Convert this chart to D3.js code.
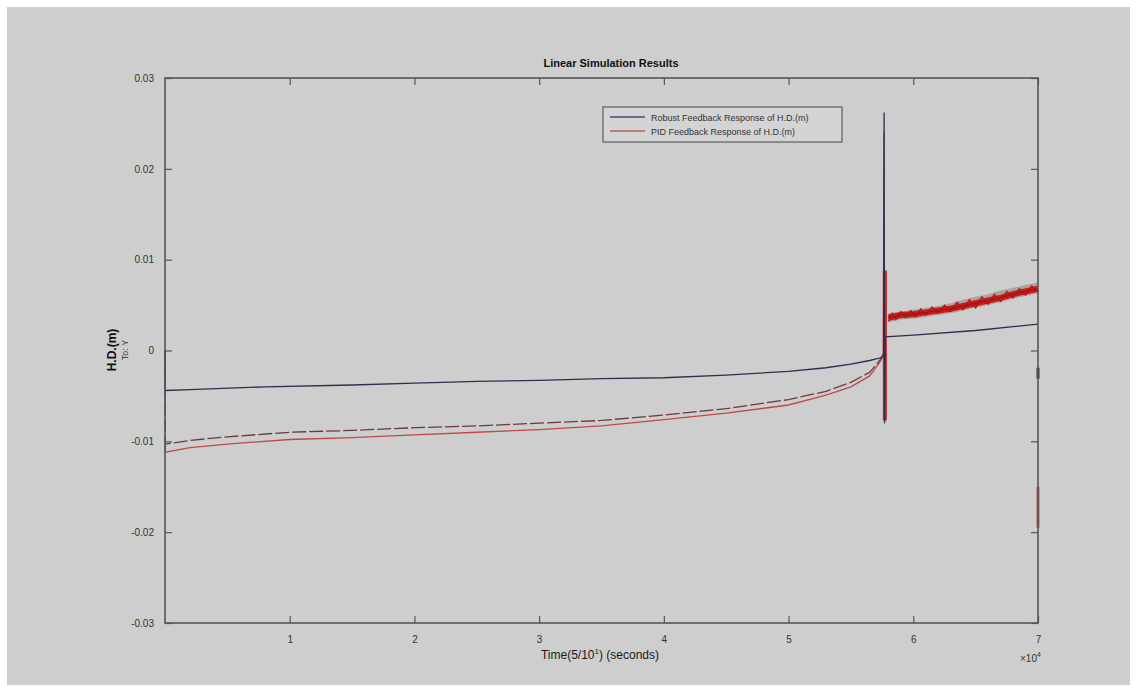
<!DOCTYPE html>
<html>
<head>
<meta charset="utf-8">
<script src="https://cdn.jsdelivr.net/npm/d3@7/dist/d3.min.js"></script>
<style>
html,body{margin:0;padding:0;background:#fff;}
svg{display:block;font-family:"Liberation Sans",Arial,sans-serif;}
</style>
</head>
<body>
<svg id="chart" width="1137" height="692"></svg>
<script>
// ---- data (time in units of 1e4 s, response in m) ----
const xTicks = [1, 2, 3, 4, 5, 6, 7];
const yTicks = [0.03, 0.02, 0.01, 0, -0.01, -0.02, -0.03];
const yTickLabels = ["0.03", "0.02", "0.01", "0", "-0.01", "-0.02", "-0.03"];
const legendLabels = ["Robust Feedback Response of H.D.(m)", "PID Feedback Response of H.D.(m)"];

const robust = [
  [0, 0], [0.002, -0.0044], [0.2, -0.0043], [0.8, -0.0040], [1.5, -0.0038],
  [2, -0.0036], [2.5, -0.0034], [3, -0.0033], [3.5, -0.0031], [4, -0.0030],
  [4.5, -0.0027], [5, -0.0023], [5.3, -0.0019], [5.5, -0.0015], [5.65, -0.0011],
  [5.74, -0.0008], [5.762, -0.0005], [5.766, 0.0262], [5.770, -0.0080],
  [5.775, 0.0015], [6, 0.0017], [6.5, 0.0022], [7, 0.0029]
];
const robustEnd = [[7, -0.0019], [7, -0.0031]];

const pidUpper = [
  [0, 0], [0.003, -0.0103], [0.2, -0.0099], [0.5, -0.0095], [1, -0.0090],
  [1.5, -0.0088], [2, -0.0085], [2.5, -0.0083], [3, -0.0080], [3.5, -0.0077],
  [4, -0.0071], [4.5, -0.0064], [5, -0.0054], [5.3, -0.0045], [5.5, -0.0035],
  [5.65, -0.0024], [5.73, -0.0011], [5.76, -0.0004]
];
const pidLower = [
  [0, -0.0104], [0.003, -0.0112], [0.2, -0.0107], [0.5, -0.0103], [1, -0.0098],
  [1.5, -0.0096], [2, -0.0093], [2.5, -0.0090], [3, -0.0087], [3.5, -0.0083],
  [4, -0.0076], [4.5, -0.0069], [5, -0.0060], [5.3, -0.0049], [5.5, -0.0040],
  [5.65, -0.0028], [5.73, -0.0013], [5.76, -0.0006], [5.765, 0.0240],
  [5.768, -0.0077], [5.771, 0.0088], [5.774, -0.0075], [5.777, 0.0070],
  [5.780, 0.0036]
];
const pidBand = [
  [5.80, 0.0036], [5.9, 0.0039], [6.0, 0.0040], [6.1, 0.0042], [6.2, 0.0044],
  [6.3, 0.0046], [6.4, 0.0049], [6.5, 0.0052], [6.6, 0.0055], [6.7, 0.0058],
  [6.8, 0.0062], [6.9, 0.0065], [7.0, 0.0068]
];
const pidBandTop = [
  [5.80, 0.0041], [5.9, 0.0043], [6.0, 0.0045], [6.1, 0.0047], [6.2, 0.0049],
  [6.3, 0.0052], [6.4, 0.0056], [6.5, 0.0059], [6.6, 0.0062], [6.7, 0.0066],
  [6.8, 0.0069], [6.9, 0.0072], [7.0, 0.0075]
];
const pidNoise = [
  [5.80, 0.0032], [5.83, 0.0041], [5.86, 0.0034], [5.90, 0.0043], [5.94, 0.0036],
  [5.98, 0.0044], [6.02, 0.0037], [6.06, 0.0046], [6.10, 0.0039], [6.15, 0.0048],
  [6.20, 0.0041], [6.25, 0.0050], [6.30, 0.0043], [6.35, 0.0053], [6.40, 0.0045],
  [6.45, 0.0056], [6.50, 0.0047], [6.55, 0.0059], [6.60, 0.0051], [6.65, 0.0062],
  [6.70, 0.0054], [6.75, 0.0065], [6.80, 0.0058], [6.85, 0.0068], [6.90, 0.0061],
  [6.95, 0.0071], [7.00, 0.0064]
];
const pidEnd = [[7, -0.0150], [7, -0.0195]];

// ---- layout ----
const svg = d3.select("#chart");
const W = 1137, H = 692;
const m = {left: 165, top: 78, right: 1038, bottom: 623};

svg.append("rect").attr("x", 7).attr("y", 7).attr("width", W - 14).attr("height", H - 14)
  .attr("fill", "#cecece");

const x = d3.scaleLinear().domain([0, 7]).range([m.left, m.right]);
const y = d3.scaleLinear().domain([-0.03, 0.03]).range([m.bottom, m.top]);

const line = d3.line().x(d => x(d[0])).y(d => y(d[1]));

const plot = svg.append("g");

// PID lines
plot.append("path").datum(pidLower).attr("d", line).attr("fill", "none")
  .attr("stroke", "#c04848").attr("stroke-width", 1.3);
plot.append("path").datum(pidUpper).attr("d", line).attr("fill", "none")
  .attr("stroke", "#6a3a3a").attr("stroke-width", 1.3).attr("stroke-dasharray", "14,3");
// thick red spike
plot.append("path").datum([[5.772, 0.0088], [5.772, -0.0077]]).attr("d", line)
  .attr("stroke", "#cc2020").attr("stroke-width", 4);
// band after spike
const area = d3.area().x(d => x(d[0])).y0((d, i) => y(pidBand[i][1] - 0.0005)).y1(d => y(d[1]));
plot.append("path").datum(pidBandTop).attr("d", area).attr("fill", "#8a8a7a").attr("opacity", 0.6);
plot.append("path").datum(pidBand).attr("d", line).attr("fill", "none")
  .attr("stroke", "#d01818").attr("stroke-width", 6);
plot.append("path").datum(pidNoise).attr("d", line).attr("fill", "none")
  .attr("stroke", "#b01515").attr("stroke-width", 1.2);
plot.append("path").datum(pidBand).attr("d", line).attr("fill", "none")
  .attr("stroke", "#8a1a1a").attr("stroke-width", 1);

// Robust
plot.append("path").datum(robust).attr("d", line).attr("fill", "none")
  .attr("stroke", "#2e2e4e").attr("stroke-width", 1.3);

// axes box
const axisColor = "#555";
svg.append("rect").attr("x", m.left).attr("y", m.top)
  .attr("width", m.right - m.left).attr("height", m.bottom - m.top)
  .attr("fill", "none").attr("stroke", axisColor).attr("stroke-width", 1.6);

// end segments on right axis
plot.append("path").datum(robustEnd).attr("d", line).attr("stroke", "#333").attr("stroke-width", 3);
plot.append("path").datum(pidEnd).attr("d", line).attr("stroke", "#c05050").attr("stroke-width", 3);

// ticks (inward, all four sides)
const tl = 7;
const bottomAxis = d3.axisBottom(x).tickValues(xTicks).tickSize(-tl).tickPadding(tl + 6).tickFormat(d3.format("d"));
const topAxis = d3.axisTop(x).tickValues(xTicks).tickSize(-tl).tickFormat("");
const leftAxis = d3.axisLeft(y).tickValues(yTicks).tickSize(-tl).tickPadding(tl + 4)
  .tickFormat((d, i) => yTickLabels[i]);
const rightAxis = d3.axisRight(y).tickValues(yTicks).tickSize(-tl).tickFormat("");

function style(g) {
  g.select(".domain").remove();
  g.selectAll(".tick line").attr("stroke", axisColor).attr("stroke-width", 1.2);
  g.selectAll(".tick text").attr("fill", "#333").style("font-size", "10px");
}
svg.append("g").attr("transform", `translate(0,${m.bottom})`).call(bottomAxis).call(style);
svg.append("g").attr("transform", `translate(0,${m.top})`).call(topAxis).call(style);
svg.append("g").attr("transform", `translate(${m.left},0)`).call(leftAxis).call(style);
svg.append("g").attr("transform", `translate(${m.right},0)`).call(rightAxis).call(style);

// exponent
const ex = svg.append("text").attr("x", 1020).attr("y", 662).attr("fill", "#333")
  .style("font-size", "10px");
ex.append("tspan").text("\u00d710");
ex.append("tspan").attr("dy", -5).style("font-size", "7px").text("4");

// title
svg.append("text").attr("x", 611).attr("y", 67).attr("text-anchor", "middle")
  .style("font-size", "11px").style("font-weight", "bold").attr("fill", "#111")
  .text("Linear Simulation Results");

// x label
const xl = svg.append("text").attr("x", 600).attr("y", 659).attr("text-anchor", "middle")
  .style("font-size", "12px").attr("fill", "#1a1a1a");
xl.append("tspan").text("Time(5/10");
xl.append("tspan").attr("dy", -5).style("font-size", "8px").text("1");
xl.append("tspan").attr("dy", 5).text(") (seconds)");

// y labels
svg.append("text").attr("transform", "translate(116,350) rotate(-90)").attr("text-anchor", "middle")
  .style("font-size", "12px").style("font-weight", "bold").attr("fill", "#111").text("H.D.(m)");
svg.append("text").attr("transform", "translate(128,350) rotate(-90)").attr("text-anchor", "middle")
  .style("font-size", "9px").attr("fill", "#444").text("To: Y");

// legend
const lg = svg.append("g");
lg.append("rect").attr("x", 603).attr("y", 107).attr("width", 239).attr("height", 35)
  .attr("fill", "#d4d4d4").attr("stroke", "#444").attr("stroke-width", 1);
const legColors = ["#4a4a7a", "#b06060"];
legendLabels.forEach((t, i) => {
  const yy = 117 + i * 14;
  lg.append("line").attr("x1", 610).attr("x2", 645).attr("y1", yy).attr("y2", yy)
    .attr("stroke", legColors[i]).attr("stroke-width", 1.3);
  lg.append("text").attr("x", 651).attr("y", yy + 3.5).style("font-size", "9px")
    .attr("fill", "#333").text(t);
});
</script>
</body>
</html>
